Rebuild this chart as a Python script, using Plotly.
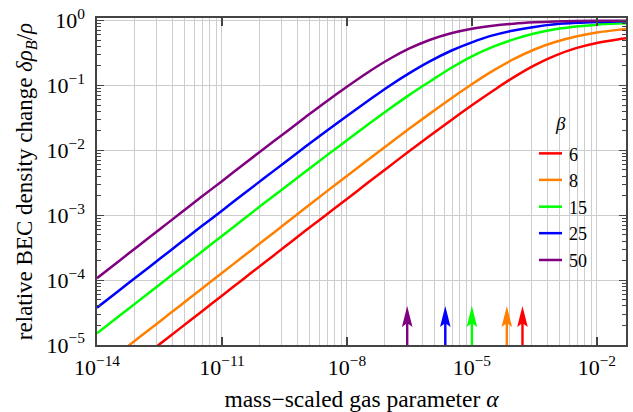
import plotly.graph_objects as go

# ---- data (log10 values) ----
log10_alpha = [-14, -13.5, -13, -12.5, -12, -11.5, -11, -10.5, -10, -9.5, -9, -8.5,
               -8, -7.5, -7, -6.5, -6, -5.5, -5, -4.5, -4, -3.5, -3, -2.5, -2,
               -1.5, -1.3]

log10_drho_beta6 = [-5.74, -5.49, -5.24, -4.99, -4.74, -4.49, -4.24, -3.99, -3.74,
                    -3.49, -3.24, -2.995, -2.75, -2.50, -2.255, -2.01, -1.77, -1.535,
                    -1.305, -1.085, -0.875, -0.69, -0.54, -0.425, -0.345, -0.29, -0.272]
log10_drho_beta8 = [-5.39, -5.14, -4.89, -4.64, -4.39, -4.14, -3.89, -3.64, -3.39,
                    -3.14, -2.89, -2.64, -2.395, -2.15, -1.905, -1.665, -1.43, -1.20,
                    -0.98, -0.775, -0.595, -0.445, -0.33, -0.245, -0.185, -0.143, -0.13]
log10_drho_beta15 = [-4.82, -4.57, -4.32, -4.07, -3.82, -3.57, -3.32, -3.07, -2.82,
                     -2.575, -2.33, -2.085, -1.845, -1.605, -1.37, -1.145, -0.935,
                     -0.73, -0.55, -0.405, -0.29, -0.20, -0.135, -0.092, -0.063,
                     -0.046, -0.042]
log10_drho_beta25 = [-4.425, -4.175, -3.925, -3.675, -3.425, -3.175, -2.93, -2.68,
                     -2.435, -2.19, -1.945, -1.705, -1.47, -1.24, -1.015, -0.81,
                     -0.625, -0.465, -0.335, -0.228, -0.152, -0.097, -0.058, -0.035,
                     -0.021, -0.013, -0.011]
log10_drho_beta50 = [-3.97, -3.72, -3.47, -3.22, -2.97, -2.72, -2.475, -2.225, -1.98,
                     -1.735, -1.49, -1.25, -1.02, -0.80, -0.60, -0.43, -0.295, -0.195,
                     -0.125, -0.078, -0.047, -0.027, -0.015, -0.008, -0.004, -0.002,
                     -0.002]

beta_labels = ["6", "8", "15", "25", "50"]
series_colors = ["#ff0000", "#ff8000", "#00ff00", "#0000ff", "#800080"]
series_values = [log10_drho_beta6, log10_drho_beta8, log10_drho_beta15,
                 log10_drho_beta25, log10_drho_beta50]

# alpha positions of the arrows (one per beta)
arrow_alpha = [1.64e-4, 6.9e-5, 1.0e-5, 2.3e-6, 2.8e-7]

x_tick_vals = [1e-14, 1e-11, 1e-8, 1e-5, 1e-2]
x_tick_text = ["10<sup>\u221214</sup>", "10<sup>\u221211</sup>", "10<sup>\u22128</sup>",
               "10<sup>\u22125</sup>", "10<sup>\u22122</sup>"]
y_tick_vals = [1e-5, 1e-4, 1e-3, 1e-2, 1e-1, 1e0]
y_tick_text = ["10<sup>\u22125</sup>", "10<sup>\u22124</sup>", "10<sup>\u22123</sup>",
               "10<sup>\u22122</sup>", "10<sup>\u22121</sup>", "10<sup>0</sup>"]

# ---- styling helpers ----
FONT = "Liberation Serif"
GRID = "#cdcdcd"
AXC = "#444444"

x_minor = []
for start in (-14, -11, -8, -5, -2):
    for k in range(2, 10):
        v = 10 ** start * k ** 3
        if v < 0.05:
            x_minor.append(v)
y_minor = [k * 10 ** n for n in range(-5, 0) for k in range(2, 10)]

fig = go.Figure()
for vals, col, lab in zip(series_values, series_colors, beta_labels):
    fig.add_trace(go.Scatter(
        x=[10 ** v for v in log10_alpha],
        y=[10 ** v for v in vals],
        mode="lines",
        name=lab,
        line=dict(color=col, width=2.5, shape="spline", smoothing=1.0),
        showlegend=False,
        hoverinfo="skip",
    ))

shapes = []
annotations = []

# legend background (covers gridlines, below traces)
shapes.append(dict(type="rect", xref="paper", yref="paper",
                   x0=0.7996, x1=0.962, y0=0.168, y1=0.755,
                   fillcolor="white", line=dict(width=0), layer="between"))
leg_y = [0.586, 0.505, 0.423, 0.342, 0.260]
for yy, col, lab in zip(leg_y, series_colors, beta_labels):
    shapes.append(dict(type="line", xref="paper", yref="paper",
                       x0=0.8355, x1=0.879, y0=yy, y1=yy,
                       line=dict(color=col, width=2.5)))
    annotations.append(dict(xref="paper", yref="paper", x=0.888, y=yy - 0.004,
                            text=lab, showarrow=False, xanchor="left", yanchor="middle",
                            font=dict(family=FONT, size=18, color="black")))
annotations.append(dict(xref="paper", yref="paper", x=0.876, y=0.676,
                        text="<i>\u03b2</i>", showarrow=False,
                        xanchor="center", yanchor="middle",
                        font=dict(family=FONT, size=19, color="black")))

# arrows marking alpha values
arrow_path = ("M-1.2,0 L-1.2,21 L-5.3,18 L0,39 L5.3,18 L1.2,21 L1.2,0 Z")
for a, col in zip(arrow_alpha, series_colors):
    shapes.append(dict(type="path", xref="x", yref="y",
                       xsizemode="pixel", ysizemode="pixel",
                       xanchor=a, yanchor=1e-5, path=arrow_path,
                       fillcolor=col, line=dict(width=0), layer="above"))

fig.update_layout(
    width=633, height=412,
    margin=dict(l=97, r=7, t=18, b=67, autoexpand=False),
    paper_bgcolor="white", plot_bgcolor="white",
    shapes=shapes, annotations=annotations,
    font=dict(family=FONT, color="black"),
)
fig.update_xaxes(
    type="log", range=[-14, -1.3], automargin=False,
    tickmode="array", tickvals=x_tick_vals, ticktext=x_tick_text,
    ticks="inside", ticklen=8, tickwidth=1.5, tickcolor=AXC,
    showline=True, linecolor=AXC, linewidth=1.5, mirror="ticks",
    showgrid=True, gridcolor=GRID, gridwidth=1, zeroline=False,
    minor=dict(tickmode="array", tickvals=x_minor, showgrid=True,
               gridcolor=GRID, gridwidth=1, ticks=""),
    tickfont=dict(family=FONT, size=22, color="black"),
    ticklabelstandoff=2,
    title=dict(text="mass\u2212scaled gas parameter <i>\u03b1</i>",
               font=dict(family=FONT, size=23.5, color="black"), standoff=13),
)
fig.update_yaxes(
    type="log", range=[-5, 0.04], automargin=False,
    tickmode="array", tickvals=y_tick_vals, ticktext=y_tick_text,
    ticks="inside", ticklen=7, tickwidth=1.2, tickcolor=AXC,
    showline=True, linecolor=AXC, linewidth=1.5, mirror="ticks",
    showgrid=True, gridcolor=GRID, gridwidth=1, zeroline=False,
    minor=dict(tickmode="array", tickvals=y_minor, showgrid=False,
               ticks="inside", ticklen=4, tickwidth=1, tickcolor=AXC),
    tickfont=dict(family=FONT, size=22, color="black"),
    ticklabelstandoff=6,
    title=dict(text="relative BEC density change <i>\u03b4\u03c1</i><sub><i>B</i></sub>/<i>\u03c1</i>",
               font=dict(family=FONT, size=23, color="black"), standoff=7),
)

fig.write_html("out.html", config={"displayModeBar": False},
               post_script="document.body.style.margin='0';document.body.style.padding='0';")
